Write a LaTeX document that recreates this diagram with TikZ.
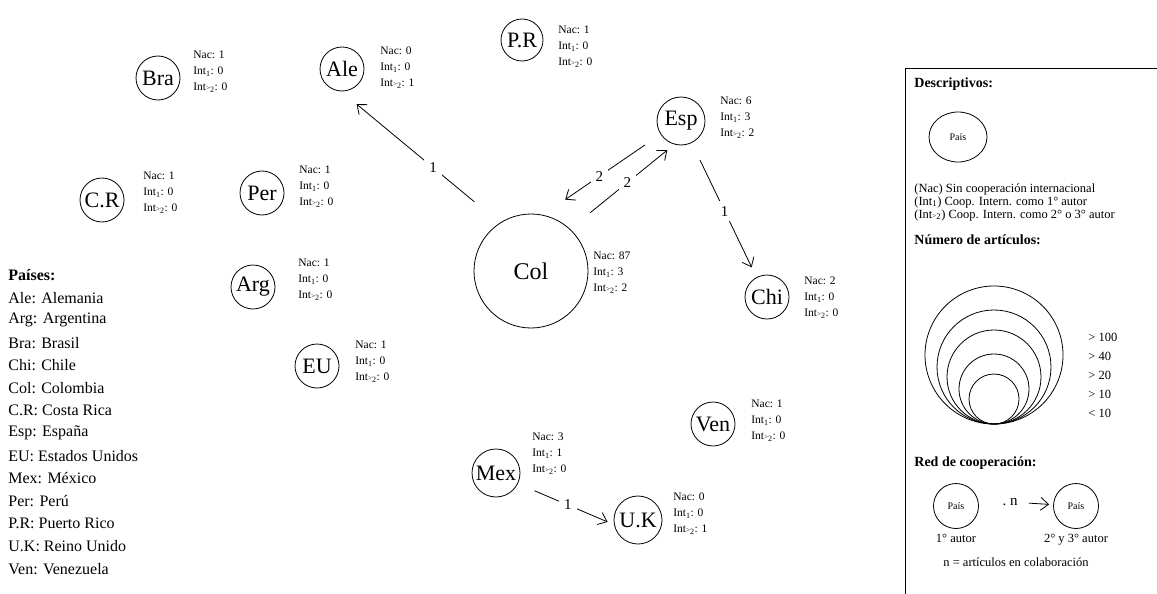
\documentclass[tikz,border=0pt]{standalone}
\usepackage{fontspec}
\setmainfont{Liberation Serif}
\usetikzlibrary{positioning,calc,arrows.meta,shapes.geometric}
\tikzset{%
  every country/.style={
    circle,
    draw,
    line width=0.8pt,
    inner sep=0pt,
    minimum size=44pt,
    font=\fontsize{22}{22}\selectfont
  },
  stats/.style={
    anchor=west,
    align=left,
    inner sep=0pt,
    font=\fontsize{11.5}{16}\selectfont
  },
  link label/.style={
    fill=white,
    inner sep=5pt,
    font=\fontsize{15}{15}\selectfont
  },
  legend title/.style={
    anchor=west,
    inner sep=0pt,
    font=\bfseries\fontsize{14}{14}\selectfont
  },
  legend text/.style={
    anchor=west,
    inner sep=0pt,
    font=\fontsize{12.5}{12.5}\selectfont
  },
}
\newcommand{\intone}{Int\textsubscript{1}}
\newcommand{\intmore}{Int{\fontsize{7}{7}\selectfont >}\textsubscript{2}}

\begin{document}
\begin{tikzpicture}[x=1pt, y=-1pt, >={Straight Barb[length=8pt,width=13pt]}, line width=0.8pt]
        \useasboundingbox (0,0) rectangle (1157,594);

        % countries
        \foreach \id/\l/\x/\y/\s in {bra/Bra/158/78/44, ale/Ale/342/69/44, pr/P.R/522/40/42,
            esp/Esp/681/121/48, cr/C.R/102/200/44, per/Per/262/193/44, chi/Chi/767/297/44,
            arg/Arg/253/287/44, eu/EU/317/366/44, ven/Ven/713/424/44, mex/Mex/496/473/48,
            uk/U.K/638/520/48}
            \node [every country, minimum size=\s pt] (\id) at (\x,\y) {\l};
        \node [every country, minimum size=114pt, font=\fontsize{24}{24}\selectfont] (col) at (531,271) {Col};

        % counts next to each country
        \foreach \id/\x/\y/\a/\b/\c in {bra/193/72/1/0/0, ale/380/68/0/0/1, pr/558/47/1/0/0,
            esp/720/118/6/3/2, cr/143/193/1/0/0, per/299/187/1/0/0, col/593/273/87/3/2,
            chi/804/298/2/0/0, arg/298/280/1/0/0, eu/355/362/1/0/0, ven/751/421/1/0/0,
            mex/532/454/3/1/0, uk/673/514/0/0/1}
            \node [stats] (\id-stats) at (\x,\y) {Nac: \a\\\intone: \b\\\intmore: \c};

        % cooperation links
        \draw [->, shorten <=33pt, shorten >=20pt] (col.123) -- (ale.268) node [link label, pos=0.42] {1};
        \draw [->, shorten <=26pt, shorten >=9pt] (col.47) -- (esp.254) node [link label, pos=0.55] {2};
        \draw [->, shorten <=19pt, shorten >=27pt] (esp.213) -- (col.78) node [link label, pos=0.52] {2};
        \draw [->, shorten <=19pt, shorten >=11pt] (esp.296) -- (chi.118) node [link label, pos=0.51] {1};
        \draw [->, shorten <=18pt, shorten >=7pt] (mex.334) -- (uk.191) node [link label, pos=0.52] {1};

        % country list
        \node [anchor=west, inner sep=0pt, font=\bfseries\fontsize{16}{16}\selectfont] (paises) at (8,275) {Países:};
        \foreach \lbl [count=\i] in {Ale: Alemania, Arg: Argentina, Bra: Brasil, Chi: Chile,
            Col: Colombia, C.R: Costa Rica, Esp: España, EU: Estados Unidos, Mex: México,
            Per: Perú, P.R: Puerto Rico, U.K: Reino Unido, Ven: Venezuela}
            \node [anchor=west, inner sep=0pt, font=\fontsize{16}{16}\selectfont] (pais-\i) at (8,275+22.6*\i) {\lbl};

        % legend frame
        \draw [line width=1pt] (905,594) -- (905,69) -- (1157,69);

        \node [legend title] (desc) at (914,84) {Descriptivos:};
        \node [draw, ellipse, minimum width=58pt, minimum height=50pt, inner sep=0pt,
            font=\fontsize{10}{10}\selectfont] (pais-0) at (958,137) {País};
        \node [legend text] (nac) at (914,189) {(Nac) Sin cooperación internacional};
        \node [legend text] (int1) at (914,202) {(\intone) Coop. Intern. como 1° autor};
        \node [legend text] (int2) at (914,215) {(\intmore) Coop. Intern. como 2° o 3° autor};

        \node [legend title] (num) at (914,240) {Número de artículos:};
        \foreach \r in {69,57,47,35,25}
            \draw (994,424) ++(0,-\r) circle (\r);
        \foreach \lbl [count=\i] in {> 100, > 40, > 20, > 10, < 10}
            \node [legend text] (size-\i) at (1088,318+19*\i) {\lbl};

        \node [legend title] (red) at (914,463) {Red de cooperación:};
        \node [every country, minimum size=45pt, font=\fontsize{10}{10}\selectfont] (pais-a) at (956,506) {País};
        \node [every country, minimum size=45pt, font=\fontsize{10}{10}\selectfont] (pais-b) at (1076,506) {País};
        \node [inner sep=1pt, font=\fontsize{15}{15}\selectfont] (n) at (1010,502) {.\ n};
        \draw [->, shorten <=10pt, shorten >=4pt] (n) -- (pais-b);
        \node [legend text, below=5pt of pais-a] (primero) {1° autor};
        \node [legend text, below=5pt of pais-b] (segundo) {2° y 3° autor};
        \node [legend text] (nota) at (943,562) {n = artículos en colaboración};
\end{tikzpicture}
\end{document}
